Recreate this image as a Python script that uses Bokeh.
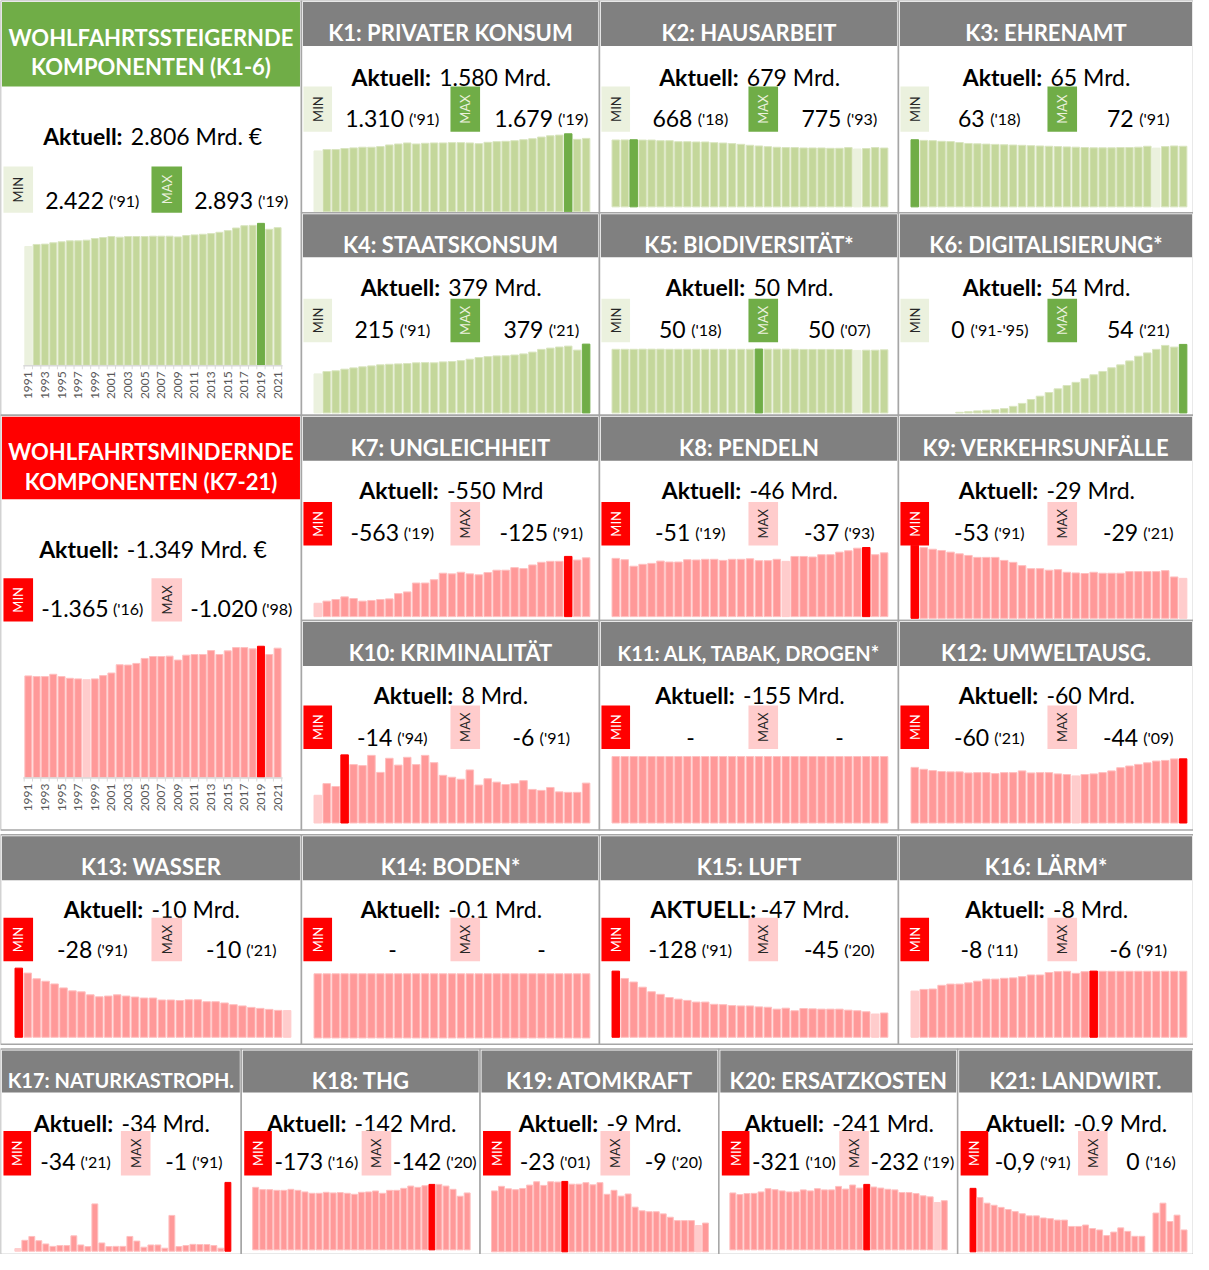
import math
from bokeh.plotting import figure
from bokeh.models import Range1d
from bokeh.embed import file_html
from bokeh.resources import INLINE
from bokeh.core.properties import value

# ---------------------------------------------------------------- data
YEARS = [1991, 1992, 1993, 1994, 1995, 1996, 1997, 1998, 1999, 2000, 2001,
         2002, 2003, 2004, 2005, 2006, 2007, 2008, 2009, 2010, 2011, 2012,
         2013, 2014, 2015, 2016, 2017, 2018, 2019, 2020, 2021]
YEAR_TICKS = [1991, 1993, 1995, 1997, 1999, 2001, 2003, 2005, 2007, 2009,
              2011, 2013, 2015, 2017, 2019, 2021]

AGG_PLUS = [2422, 2463, 2470, 2497, 2517, 2537, 2537, 2550, 2584, 2604, 2624, 2611, 2624, 2624, 2624, 2631,
            2631, 2631, 2617, 2644, 2658, 2671, 2684, 2711, 2745, 2798, 2845, 2852, 2893, 2772, 2806]
K1 = [1310, 1340, 1340, 1362, 1376, 1390, 1390, 1404, 1439, 1460, 1482, 1460, 1475, 1482, 1482, 1489,
      1489, 1482, 1467, 1496, 1510, 1517, 1531, 1552, 1573, 1609, 1637, 1651, 1679, 1559, 1580]
K2 = [772, 773, 775, 771, 771, 764, 764, 752, 752, 749, 749, 741, 737, 730, 722, 711,
      703, 695, 688, 684, 684, 680, 680, 680, 676, 676, 684, 668, 673, 684, 679]
K3 = [72.0, 71.3, 71.0, 70.3, 70.0, 69.0, 68.0, 67.6, 67.3, 67.0, 66.6, 66.3, 66.0, 65.6, 65.3, 65.0,
      64.6, 64.3, 64.0, 63.6, 63.3, 63.3, 63.3, 63.6, 63.6, 64.0, 65.0, 63.0, 64.6, 65.3, 65.0]
K4 = [215, 228, 232, 241, 248, 254, 259, 265, 268, 270, 272, 276, 277, 276, 281, 283,
      288, 296, 305, 310, 314, 315, 319, 325, 335, 350, 357, 363, 368, 346, 379]
K5 = [50.9, 50.9, 50.9, 51.0, 51.0, 51.0, 50.9, 50.9, 50.9, 50.9, 50.9, 50.9, 50.9, 50.9, 50.9, 50.9,
      51.1, 51.0, 51.0, 51.0, 51.0, 50.8, 50.8, 50.8, 50.8, 50.7, 50.7, 50.0, 50.2, 50.2, 50.5]
K6 = [0, 0, 0, 0, 0, 0.5, 1.0, 1.6, 2.1, 2.6, 3.4, 5.2, 7.5, 10.6, 13.2, 16.1,
      19.0, 21.6, 24.1, 27.0, 30.1, 32.7, 35.6, 37.9, 41.0, 44.7, 47.3, 50.1, 53.2, 51.9, 54.0]
AGG_MINUS = [-1060, -1053, -1053, -1077, -1053, -1035, -1029, -1020, -1029, -1063, -1090, -1176, -1173,
             -1190, -1242, -1262, -1262, -1266, -1225, -1276, -1283, -1283, -1324, -1283, -1321, -1355,
             -1355, -1342, -1369, -1283, -1349]
K7 = [-125, -145, -160, -185, -169, -145, -151, -160, -166, -215, -231, -314, -314, -345, -406, -400,
      -415, -400, -391, -412, -434, -434, -458, -449, -483, -508, -517, -517, -563, -529, -550]
K8 = [-43.0, -42.0, -37.2, -38.6, -39.3, -41.0, -40.3, -40.3, -42.0, -41.8, -42.3, -42.3, -41.5, -42.3,
      -42.3, -42.7, -41.3, -41.3, -42.3, -40.8, -44.4, -44.4, -44.0, -45.7, -45.7, -47.6, -48.6, -50.5,
      -51.0, -45.7, -47.1]
K9 = [-53.0, -51.3, -50.1, -49.2, -48.0, -46.8, -45.6, -44.2, -44.2, -44.2, -42.0, -40.6, -38.2, -36.0,
      -36.0, -34.9, -35.3, -33.4, -32.9, -32.5, -33.4, -32.7, -32.7, -32.7, -33.9, -33.9, -33.9, -33.9,
      -34.6, -30.0, -29.0]
K10 = [-5.7, -8.1, -7.5, -14.0, -12.0, -11.8, -13.9, -10.4, -13.3, -11.9, -13.5, -12.0, -13.9, -12.4,
       -9.8, -9.4, -9.0, -10.9, -7.8, -9.1, -8.4, -7.9, -8.1, -8.7, -6.9, -6.7, -7.3, -6.4, -6.3, -6.3, -8.2]
K11 = [-155, -155, -155, -155, -155, -155, -155, -155, -155, -155, -155, -155, -155, -155, -155, -155,
       -155, -155, -155, -155, -155, -155, -155, -155, -155, -155, -155, -155, -155, -155, -155]
K12 = [-52.0, -50.2, -49.0, -48.1, -47.8, -47.8, -46.8, -47.1, -47.1, -46.2, -47.1, -47.1, -48.7, -46.8,
       -47.1, -47.1, -45.9, -45.3, -44.0, -45.3, -45.9, -47.1, -48.7, -51.7, -53.3, -54.8, -56.3, -57.9,
       -58.5, -59.9, -60.0]
K13 = [-28.0, -26.0, -23.7, -22.7, -21.6, -20.0, -18.8, -18.4, -17.2, -16.4, -16.7, -17.2, -16.7, -16.3,
       -15.9, -15.9, -15.1, -15.1, -14.9, -15.2, -15.2, -14.4, -14.4, -13.9, -13.2, -12.7, -12.1, -11.7,
       -11.3, -10.9, -10.8]
K14 = [-0.1, -0.1, -0.1, -0.1, -0.1, -0.1, -0.1, -0.1, -0.1, -0.1, -0.1, -0.1, -0.1, -0.1, -0.1, -0.1,
       -0.1, -0.1, -0.1, -0.1, -0.1, -0.1, -0.1, -0.1, -0.1, -0.1, -0.1, -0.1, -0.1, -0.1, -0.1]
K15 = [-128, -113.8, -106.9, -96.9, -88.1, -83.1, -76.9, -73.8, -71.3, -68.1, -68.1, -63.8, -63.1, -61.3,
       -60.6, -60.6, -58.8, -58.1, -54.4, -56.3, -51.3, -55.6, -55.0, -54.4, -54.4, -54.4, -52.5, -51.3,
       -49.4, -45.0, -47.0]
K16 = [-5.6, -5.8, -5.85, -6.3, -6.45, -6.45, -6.6, -6.8, -7.05, -7.05, -7.15, -7.2, -7.35, -7.55, -7.55,
       -7.85, -7.95, -8.0, -7.75, -7.95, -8.02, -8.0, -8.0, -8.0, -8.0, -8.0, -8.0, -8.0, -8.0, -8.0, -8.0]
K17 = [-1.3, -5.4, -7.3, -5.2, -3.6, -2.4, -2.8, -2.8, -7.6, -3.1, -2.3, -23.4, -4.1, -2.3, -2.4, -2.4,
       -7.3, -5.0, -2.0, -3.1, -3.1, -1.5, -17.7, -2.3, -2.8, -3.4, -3.3, -3.3, -2.8, -1.5, -34.0]
K18 = [-165.2, -159.1, -159.1, -157.3, -157.3, -160.0, -157.3, -153.0, -149.5, -149.5, -152.1, -150.4,
       -151.3, -149.5, -146.9, -152.1, -153.0, -155.6, -149.5, -157.3, -157.3, -162.6, -168.6, -165.2,
       -169.5, -173.0, -173.0, -168.6, -160.0, -141.7, -150.4]
K19 = [-19.9, -21.4, -20.6, -20.3, -20.7, -21.8, -22.9, -21.7, -22.9, -22.8, -23.0, -22.1, -22.1, -22.6,
       -21.9, -22.6, -18.8, -20.1, -18.2, -18.9, -14.6, -13.4, -13.1, -13.1, -12.4, -11.3, -10.2, -10.2,
       -10.2, -8.6, -9.4]
K20 = [-279, -271, -276, -277, -284, -300, -295, -289, -284, -284, -294, -289, -300, -294, -294, -311,
       -298, -318, -303, -321, -308, -303, -297, -294, -281, -281, -276, -265, -260, -232, -241]
K21 = [-0.90, -0.77, -0.69, -0.66, -0.63, -0.60, -0.57, -0.54, -0.51, -0.51, -0.48, -0.47, -0.45, -0.45,
       -0.36, -0.36, -0.38, -0.33, -0.31, -0.23, -0.28, -0.34, -0.29, -0.22, -0.22, 0.0, -0.55, -0.69,
       -0.43, -0.52, -0.31]

SERIES = [AGG_PLUS, K1, K2, K3, K4, K5, K6, AGG_MINUS, K7, K8, K9, K10, K11, K12,
          K13, K14, K15, K16, K17, K18, K19, K20, K21]
TITLES = [None, "K1: PRIVATER KONSUM", "K2: HAUSARBEIT", "K3: EHRENAMT", "K4: STAATSKONSUM",
          "K5: BIODIVERSITÄT*", "K6: DIGITALISIERUNG*", None, "K7: UNGLEICHHEIT", "K8: PENDELN",
          "K9: VERKEHRSUNFÄLLE", "K10: KRIMINALITÄT", "K11: ALK, TABAK, DROGEN*", "K12: UMWELTAUSG.",
          "K13: WASSER", "K14: BODEN*", "K15: LUFT", "K16: LÄRM*", "K17: NATURKASTROPH.", "K18: THG",
          "K19: ATOMKRAFT", "K20: ERSATZKOSTEN", "K21: LANDWIRT."]
AKT_LABELS = ["Aktuell:"] * 16 + ["AKTUELL:"] + ["Aktuell:"] * 6
AKTUELL = ["2.806 Mrd. €", "1.580 Mrd.", "679 Mrd.", "65 Mrd.", "379 Mrd.", "50 Mrd.", "54 Mrd.",
           "-1.349 Mrd. €", "-550 Mrd", "-46 Mrd.", "-29 Mrd.", "8 Mrd.", "-155 Mrd.", "-60 Mrd.",
           "-10 Mrd.", "-0,1 Mrd.", "-47 Mrd.", "-8 Mrd.", "-34 Mrd.", "-142 Mrd.", "-9 Mrd.",
           "-241 Mrd.", "-0,9 Mrd."]
MIN_VALS = ["2.422", "1.310", "668", "63", "215", "50", "0", "-1.365", "-563", "-51", "-53", "-14", "-",
            "-60", "-28", "-", "-128", "-8", "-34", "-173", "-23", "-321", "-0,9"]
MIN_YEARS = ["('91)", "('91)", "('18)", "('18)", "('91)", "('18)", "('91-'95)", "('16)", "('19)", "('19)",
             "('91)", "('94)", "", "('21)", "('91)", "", "('91)", "('11)", "('21)", "('16)", "('01)",
             "('10)", "('91)"]
MAX_VALS = ["2.893", "1.679", "775", "72", "379", "50", "54", "-1.020", "-125", "-37", "-29", "-6", "-",
            "-44", "-10", "-", "-45", "-6", "-1", "-142", "-9", "-232", "0"]
MAX_YEARS = ["('19)", "('19)", "('93)", "('91)", "('21)", "('07)", "('21)", "('98)", "('91)", "('93)",
             "('21)", "('91)", "", "('09)", "('21)", "", "('20)", "('91)", "('91)", "('20)", "('20)",
             "('19)", "('16)"]
# index of the strongly / palely highlighted bar in each series (as drawn)
STRONG = [28, 28, 2, 0, 30, 16, 30, 28, 28, 28, 0, 3, None, 30, 0, None, 0, 20, 30, 25, 10, 19, 0]
PALE = [0, 0, 27, 27, 0, 27, 0, 7, 0, 19, 30, 0, None, 18, 30, None, 29, 0, 0, None, 29, 29, 25]

# ---------------------------------------------------------------- layout (reference pixel units)
W, H = 1209, 1270
ROWS = {
    "G": dict(top=0, hb=88, bot=420, akt=129, badge=(168, 215), val=195),
    "R": dict(top=420, hb=506, bot=840, akt=548, badge=(585, 629), val=608),
    "A": dict(top=0, hb=47, bot=215, akt=69, badge=(87, 133), val=112),
    "B": dict(top=215, hb=261, bot=420, akt=282, badge=(302, 346), val=325),
    "C": dict(top=420, hb=467, bot=628, akt=488, badge=(508, 552), val=531),
    "D": dict(top=628, hb=675, bot=840, akt=695, badge=(714, 758), val=738),
    "E": dict(top=845, hb=892, bot=1057, akt=912, badge=(929, 973), val=953),
    "F": dict(top=1062, hb=1107, bot=1270, akt=1129, badge=(1145, 1190), val=1168),
}
C4 = [(0, 305), (305, 607), (607, 910), (910, 1209)]
C5 = [(0, 244), (244, 486), (486, 728), (728, 970), (970, 1209)]
# (row, cell, bar-left, bar-right, baseline, top of largest bar)
GEOM = [
    ("G", C4[0], 24, 285, 369.5, 225.7),
    ("A", C4[1], 317, 598, 214, 135), ("A", C4[2], 619, 900, 209, 141), ("A", C4[3], 922, 1203, 209, 141),
    ("B", C4[1], 317, 598, 417.7, 348), ("B", C4[2], 619, 900, 417.7, 353), ("B", C4[3], 922, 1203, 417.7, 348.3),
    ("R", C4[0], 24, 285, 787, 654),
    ("C", C4[1], 317, 598, 624, 563), ("C", C4[2], 619, 900, 624, 554), ("C", C4[3], 922, 1203, 625.7, 551.7),
    ("D", C4[1], 317, 598, 833, 764), ("D", C4[2], 619, 900, 833, 765.7), ("D", C4[3], 922, 1203, 833, 768),
    ("E", C4[0], 14, 295, 1050, 980), ("E", C4[1], 317, 598, 1050.7, 985.7),
    ("E", C4[2], 619, 900, 1050, 983), ("E", C4[3], 922, 1203, 1050, 983),
    ("F", C5[0], 14, 234, 1266.7, 1197), ("F", C5[1], 255, 476.5, 1265.3, 1199),
    ("F", C5[2], 497, 718, 1267.3, 1196), ("F", C5[3], 738.6, 960, 1265.3, 1199),
    ("F", C5[4], 982, 1203, 1267.3, 1203),
]

GREEN_DARK, GREEN, GREEN_LINE, GREEN_PALE = "#70AD47", "#C4D79B", "#D9E5BF", "#EBF1DE"
RED, PINK, PINK_LINE, PINK_PALE = "#FF0000", "#FF9999", "#FFBFBF", "#FFCCCC"
HEADER_GRAY = "#808080"
BORDER = "#A6A6A6"
FONT = value("Lato")

REG = {c: 0.58 for c in "0123456789"}
REG.update({".": 0.23, ",": 0.23, ":": 0.25, "-": 0.35, " ": 0.2, "€": 0.58, "(": 0.3, ")": 0.3,
            "'": 0.16, "M": 0.92, "r": 0.38, "d": 0.58})
BOLD = {"A": 0.72, "k": 0.57, "t": 0.40, "u": 0.60, "e": 0.56, "l": 0.28, ":": 0.28, "K": 0.70,
        "T": 0.62, "U": 0.75, "E": 0.58, "L": 0.52}


def tw(s, size, bold=False):
    tab = BOLD if bold else REG
    return sum(tab.get(c, 0.58) for c in s) * size


p = figure(width=1193, height=1254, x_range=Range1d(0, W), y_range=Range1d(H, 0),
           output_backend="svg", toolbar_location=None, min_border=0,
           x_axis_location=None, y_axis_location=None)
p.grid.visible = False
p.outline_line_color = None
p.background_fill_color = "white"
p.border_fill_color = "white"

xr_extra, yr_extra = {}, {}


def txt(x, y, s, size, color="#000000", bold=False, align="left", baseline="alphabetic", angle=0.0,
        xr=None):
    kw = {}
    if xr:
        kw["x_range_name"] = xr
    p.text(x=x, y=y, text=s, text_font=FONT, text_font_size=f"{size}px",
           text_font_style="bold" if bold else "normal", text_color=color, text_align=align,
           text_baseline=baseline, angle=angle, **kw)


def parts_line(cx, base, parts, gap):
    widths = [tw(s, sz, b) for s, sz, b in parts]
    total = sum(widths) + gap * (len(parts) - 1)
    x = cx - total / 2
    for (s, sz, b), w in zip(parts, widths):
        txt([x], [base], [s], sz, bold=b)
        x += w + gap


for i, (rowk, (x0, x1), xa, xb, yb, yt) in enumerate(GEOM):
    row = ROWS[rowk]
    plus = i < 7
    big = rowk in ("G", "R")
    five = rowk == "F"
    # cell frame
    p.quad(left=[x0], right=[x1], top=[row["top"]], bottom=[row["bot"]], fill_color="white",
           line_color=BORDER, line_width=1.5)
    # header
    hcol = (GREEN_DARK if plus else RED) if big else HEADER_GRAY
    p.quad(left=[x0 + 1.5], right=[x1 - 1.5], top=[row["top"] + 1.5], bottom=[row["hb"] - 1],
           fill_color=hcol, line_color=None)
    cx = (x0 + x1) / 2
    if big:
        lines = (["WOHLFAHRTSSTEIGERNDE", "KOMPONENTEN (K1-6)"] if plus
                 else ["WOHLFAHRTSMINDERNDE", "KOMPONENTEN (K7-21)"])
        txt([cx, cx], [row["top"] + 37, row["top"] + 67], lines, 22, color="white", bold=True,
            align="center")
    else:
        hsize = 20 if TITLES[i] in ("K11: ALK, TABAK, DROGEN*", "K17: NATURKASTROPH.") else 22
        txt([cx], [(row["top"] + row["hb"]) / 2 + 9], [TITLES[i]], hsize, color="white", bold=True,
            align="center")
    # Aktuell line
    parts_line(cx, row["akt"] + 8, [(AKT_LABELS[i], 23, True), (AKTUELL[i], 23, False)], 4)
    # badges
    if five:
        mn_b, mx_b, mn_c, mx_c = (x0 + 3, x0 + 31), (x0 + 122, x0 + 152), x0 + 76, x0 + 196
    elif x0 == 0:
        mn_b, mx_b, mn_c, mx_c = (3, 33), (153, 184), 93, 244
    else:
        mn_b, mx_b, mn_c, mx_c = (x0 + 2, x0 + 31), (x0 + 151, x0 + 181), x0 + 92, x0 + 243
    by0, by1 = row["badge"]
    if plus:
        bcols = [(GREEN_PALE, "#262626"), (GREEN_DARK, "#EBF1DE")]
    else:
        bcols = [(RED, "#FFFFFF"), (PINK_PALE, "#262626")]
    for (bx0, bx1), (bf, bt), lab in zip([mn_b, mx_b], bcols, ["MIN", "MAX"]):
        p.quad(left=[bx0], right=[bx1], top=[by0], bottom=[by1], fill_color=bf, line_color=None)
        txt([(bx0 + bx1) / 2], [(by0 + by1) / 2], [lab], 13, color=bt, align="center",
            baseline="middle", angle=math.pi / 2)
    for c, v, y in ((mn_c, MIN_VALS[i], MIN_YEARS[i]), (mx_c, MAX_VALS[i], MAX_YEARS[i])):
        if y:
            parts_line(c, row["val"] + 8, [(v, 23, False), (y, 16, False)], 6)
        else:
            parts_line(c, row["val"] + 8, [(v, 23, False)], 6)
    # bars through their own scales
    vals = SERIES[i]
    name = f"p{i}"
    n = len(YEARS)
    k = (xb - xa) / n
    xs = (YEARS[0] - 0.5) - xa / k
    xr_extra[name] = Range1d(xs, xs + W / k)
    vmax = max(vals, key=abs)
    sb, st = H - yb, H - yt
    per = vmax / (st - sb)
    yr_extra[name] = Range1d(-sb * per, (H - sb) * per)
    base, line, strong, pale = ((GREEN, GREEN_LINE, GREEN_DARK, GREEN_PALE) if plus
                                else (PINK, PINK_LINE, RED, PINK_PALE))
    fills, lcols = [], []
    for j in range(n):
        if j == STRONG[i]:
            fills.append(strong); lcols.append(strong)
        elif j == PALE[i]:
            fills.append(pale); lcols.append(pale)
        else:
            fills.append(base); lcols.append(line)
    lalpha = [0.0 if v == 0 else 1.0 for v in vals]
    p.vbar(x=YEARS, top=vals, bottom=0, width=0.84, fill_color=fills, line_color=lcols,
           line_alpha=lalpha, line_width=1, x_range_name=name, y_range_name=name)
    if big:
        # category axis with year labels
        p.segment(x0=[YEARS[0] - 0.6], x1=[YEARS[-1] + 0.6], y0=[yb + 0.5], y1=[yb + 0.5],
                  line_color="#D9D9D9", line_width=1.5, x_range_name=name)
        edges = [yv - 0.5 for yv in YEARS] + [YEARS[-1] + 0.5]
        p.segment(x0=edges, x1=edges, y0=[yb] * len(edges), y1=[yb + 4] * len(edges),
                  line_color="#D9D9D9", line_width=1, x_range_name=name)
        txt(YEAR_TICKS, [yb + 6] * len(YEAR_TICKS), [str(t) for t in YEAR_TICKS], 12,
            color="#595959", align="right", baseline="middle", angle=math.pi / 2, xr=name)

p.extra_x_ranges = xr_extra
p.extra_y_ranges = yr_extra

open("out.html", "w").write(file_html(p, INLINE))
